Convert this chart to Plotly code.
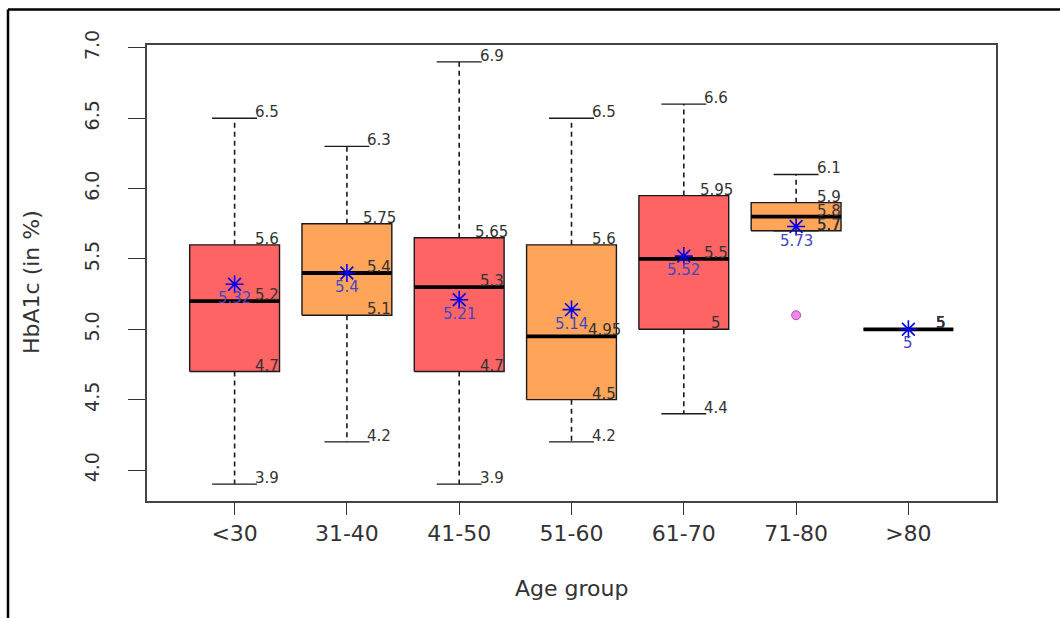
import plotly.graph_objects as go

# ---------------- data ----------------
categories = ["<30", "31-40", "41-50", "51-60", "61-70", "71-80", ">80"]
lower_whisker = [3.9, 4.2, 3.9, 4.2, 4.4, 5.7, 5.0]
q1 = [4.7, 5.1, 4.7, 4.5, 5.0, 5.7, 5.0]
median = [5.2, 5.4, 5.3, 4.95, 5.5, 5.8, 5.0]
q3 = [5.6, 5.75, 5.65, 5.6, 5.95, 5.9, 5.0]
upper_whisker = [6.5, 6.3, 6.9, 6.5, 6.6, 6.1, 5.0]
means = [5.32, 5.4, 5.21, 5.14, 5.52, 5.73, 5.0]
outlier_groups = ["71-80"]
outlier_values = [5.1]
y_ticks = [4.0, 4.5, 5.0, 5.5, 6.0, 6.5, 7.0]
y_tick_labels = ["4.0", "4.5", "5.0", "5.5", "6.0", "6.5", "7.0"]

# ---------------- style ----------------
RED = "#FF6464"
ORANGE = "#FFA55A"
box_fill = [RED, ORANGE, RED, ORANGE, RED, ORANGE, RED]
BOX_HALF = 0.4
CAP_HALF = 0.2
LABEL_DX = 0.29
FONT = "DejaVu Sans"

W, H = 1060, 618
L, R, T, B = 147, 64, 45, 117
PW, PH = W - L - R, H - T - B

pos = list(range(1, len(categories) + 1))

fig = go.Figure()

# boxes (filled rectangles), grouped by colour
for col in (RED, ORANGE):
    xs, ys = [], []
    for i, c in enumerate(box_fill):
        if c != col:
            continue
        x = pos[i]
        xs += [x - BOX_HALF, x + BOX_HALF, x + BOX_HALF, x - BOX_HALF, x - BOX_HALF, None]
        ys += [q1[i], q1[i], q3[i], q3[i], q1[i], None]
    fig.add_trace(go.Scatter(x=xs, y=ys, mode="lines", fill="toself", fillcolor=col,
                             line=dict(color="#1a1a1a", width=1.4), hoverinfo="skip"))

# dashed whiskers
wx, wy = [], []
for i, x in enumerate(pos):
    wx += [x, x, None, x, x, None]
    wy += [q3[i], upper_whisker[i], None, q1[i], lower_whisker[i], None]
fig.add_trace(go.Scatter(x=wx, y=wy, mode="lines",
                         line=dict(color="#1a1a1a", width=1.6, dash="5px,4px"), hoverinfo="skip"))

# whisker caps
cx, cy = [], []
for i, x in enumerate(pos):
    cx += [x - CAP_HALF, x + CAP_HALF, None, x - CAP_HALF, x + CAP_HALF, None]
    cy += [upper_whisker[i], upper_whisker[i], None, lower_whisker[i], lower_whisker[i], None]
fig.add_trace(go.Scatter(x=cx, y=cy, mode="lines",
                         line=dict(color="#1a1a1a", width=1.4), hoverinfo="skip"))

# medians
mx, my = [], []
for i, x in enumerate(pos):
    mx += [x - BOX_HALF, x + BOX_HALF, None]
    my += [median[i], median[i], None]
fig.add_trace(go.Scatter(x=mx, y=my, mode="lines",
                         line=dict(color="black", width=3.8), hoverinfo="skip"))

# outliers
fig.add_trace(go.Scatter(x=[pos[categories.index(g)] for g in outlier_groups], y=outlier_values,
                         mode="markers",
                         marker=dict(symbol="circle", size=9, color="#EE88EE",
                                     line=dict(color="#B050B0", width=1)),
                         hoverinfo="skip"))

# means
fig.add_trace(go.Scatter(x=pos, y=means, mode="markers",
                         marker=dict(symbol="asterisk-open", size=15, color="#0000EE",
                                     line=dict(color="#0000EE", width=1.6)),
                         hoverinfo="skip"))

ann = []
def fmt(v):
    return f"{v:g}"

# five-number labels
for i, x in enumerate(pos):
    for v in (lower_whisker[i], q1[i], median[i], q3[i], upper_whisker[i]):
        ann.append(dict(x=x + LABEL_DX, y=v, xref="x", yref="y", text=fmt(v), showarrow=False,
                        xanchor="center", yanchor="bottom", yshift=-5,
                        font=dict(family=FONT, size=15, color="#333333")))
# mean labels
for i, x in enumerate(pos):
    ann.append(dict(x=x, y=means[i], xref="x", yref="y", text=fmt(means[i]), showarrow=False,
                    xanchor="center", yanchor="top", yshift=-3,
                    font=dict(family=FONT, size=15, color="#4545C0")))

# axis titles
ann.append(dict(x=0.5, y=(T + PH - 588) / PH, xref="paper", yref="paper",
                text="Age group", showarrow=False, xanchor="center", yanchor="middle",
                font=dict(family=FONT, size=22, color="#333333")))
ann.append(dict(x=(31 - L) / PW, y=(T + PH - 282) / PH, xref="paper", yref="paper",
                text="HbA1c (in %)", showarrow=False, textangle=-90,
                xanchor="center", yanchor="middle",
                font=dict(family=FONT, size=22, color="#333333")))

# outer image frame (top and left edges)
px = lambda p: (p - L) / PW
py = lambda p: (T + PH - p) / PH
shapes = [
    dict(type="line", xref="paper", yref="paper", x0=px(8), x1=px(W + 5), y0=py(9.5), y1=py(9.5),
         line=dict(color="black", width=2.5)),
    dict(type="line", xref="paper", yref="paper", x0=px(8), x1=px(8), y0=py(9.5), y1=py(H + 5),
         line=dict(color="black", width=2.5)),
]

fig.update_layout(
    width=W, height=H,
    margin=dict(l=L, r=R, t=T, b=B),
    paper_bgcolor="white", plot_bgcolor="white",
    showlegend=False,
    font=dict(family=FONT, color="#333333"),
    annotations=ann,
    shapes=shapes,
    xaxis=dict(range=[0.22, 7.78], tickmode="array", tickvals=pos, ticktext=categories,
               ticks="outside", ticklen=12, tickwidth=1.4, tickcolor="#333333",
               showline=True, linecolor="#444444", linewidth=1.6, mirror=True,
               showgrid=False, zeroline=False, ticklabelstandoff=0,
               tickfont=dict(family=FONT, size=22, color="#333333")),
    yaxis=dict(range=[3.78, 7.02], tickmode="array", tickvals=y_ticks, ticktext=y_tick_labels,
               tickangle=-90, ticks="outside", ticklen=17, tickwidth=1.4, tickcolor="#333333",
               showline=True, linecolor="#444444", linewidth=1.6, mirror=True,
               showgrid=False, zeroline=False, ticklabelstandoff=22,
               tickfont=dict(family=FONT, size=19, color="#333333")),
)

fig.write_html("out.html", config={"displayModeBar": False},
               post_script="document.body.style.margin='0';")
